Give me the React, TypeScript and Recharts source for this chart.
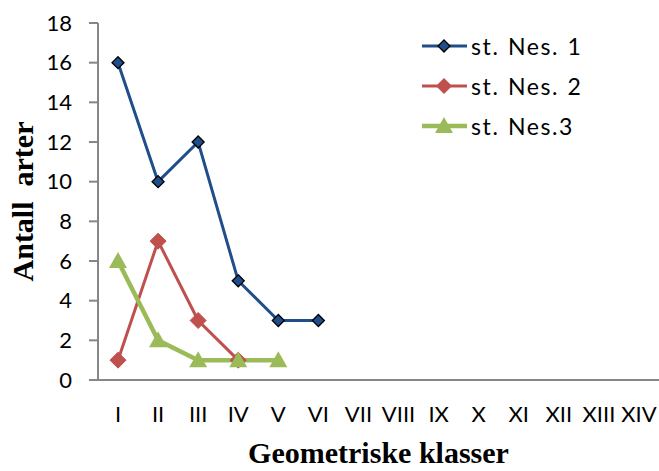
import React from 'react'
import { LineChart, Line, XAxis, YAxis, Legend, Label } from 'recharts'

const classes = ['I', 'II', 'III', 'IV', 'V', 'VI', 'VII', 'VIII', 'IX', 'X', 'XI', 'XII', 'XIII', 'XIV']
const nes1 = [16, 10, 12, 5, 3, 3]
const nes2 = [1, 7, 3, 1]
const nes3 = [6, 2, 1, 1, 1]
const yTicks = [0, 2, 4, 6, 8, 10, 12, 14, 16, 18]

const seriesNames = ['st. Nes. 1', 'st. Nes. 2', 'st. Nes.3']
const BLUE = '#1F4E8A'
const RED = '#C0504D'
const GREEN = '#9BBB59'

const data = classes.map((c, i) => ({
  name: c,
  n1: nes1[i],
  n2: nes2[i],
  n3: nes3[i],
}))

const tickFont = 'Lato, "Open Sans", sans-serif'
const titleFont = '"Liberation Serif", "Times New Roman", serif'

function SmallDiamond(props: any) {
  const { cx, cy } = props
  if (cx == null || cy == null || props.value == null) return null
  const r = 6
  return <path d={`M${cx},${cy - r}L${cx + r},${cy}L${cx},${cy + r}L${cx - r},${cy}Z`} fill={BLUE} stroke="#000" strokeWidth={1.3} />
}

function BigDiamond(props: any) {
  const { cx, cy } = props
  if (cx == null || cy == null || props.value == null) return null
  const r = 8
  return <path d={`M${cx},${cy - r}L${cx + r},${cy}L${cx},${cy + r}L${cx - r},${cy}Z`} fill={RED} stroke={RED} strokeWidth={1} />
}

function Triangle(props: any) {
  const { cx, cy } = props
  if (cx == null || cy == null || props.value == null) return null
  return <path d={`M${cx},${cy - 9}L${cx + 9},${cy + 7}L${cx - 9},${cy + 7}Z`} fill={GREEN} />
}

function LegendBox() {
  const row = (i: number, icon: React.ReactNode, color: string, w: number) => (
    <div key={i} style={{ display: 'flex', alignItems: 'center', height: 40 }}>
      <svg width={48} height={24}>
        <line x1={1} y1={12} x2={46} y2={12} stroke={color} strokeWidth={w} />
        {icon}
      </svg>
      <span
        style={{
          fontFamily: tickFont,
          fontSize: 23,
          letterSpacing: 1.6,
          wordSpacing: 1,
          color: '#000',
          marginLeft: 2,
          whiteSpace: 'nowrap',
        }}
      >
        {seriesNames[i]}
      </span>
    </div>
  )
  return (
    <div>
      {row(0, <path d="M23,6L29,12L23,18L17,12Z" fill={BLUE} stroke="#000" strokeWidth={1.3} />, BLUE, 3)}
      {row(1, <path d="M23,4L31,12L23,20L15,12Z" fill={RED} />, RED, 3)}
      {row(2, <path d="M23,3L32,19L14,19Z" fill={GREEN} />, GREEN, 4.5)}
    </div>
  )
}

export default function App() {
  return (
    <div style={{ position: 'absolute', left: 0, top: 0, background: '#fff' }}>
      <LineChart width={659} height={471} data={data} margin={{ top: 23, right: 0, bottom: 0, left: 0 }}>
        <XAxis
          dataKey="name"
          height={91}
          padding={{ left: 20, right: 20 }}
          stroke="#868686"
          strokeWidth={2}
          tickLine={false}
          tickSize={0}
          tickMargin={26}
          interval={0}
          tick={{ fill: '#000', fontSize: 22, fontFamily: tickFont }}
        >
          <Label
            content={({ viewBox }: any) => (
              <text
                x={viewBox.x + viewBox.width / 2}
                y={463}
                textAnchor="middle"
                fontFamily={titleFont}
                fontWeight="bold"
                fontSize={30}
                fill="#000"
              >
                Geometriske klasser
              </text>
            )}
          />
        </XAxis>
        <YAxis
          width={98}
          domain={[0, 18]}
          ticks={yTicks}
          interval={0}
          stroke="#868686"
          strokeWidth={2}
          tickSize={9}
          tickMargin={17}
          tick={{ fill: '#000', fontSize: 22, fontFamily: tickFont }}
        >
          <Label
            content={({ viewBox }: any) => {
              const cx = 33
              const cy = viewBox.y + viewBox.height / 2
              return (
                <text
                  x={cx}
                  y={cy}
                  transform={`rotate(-90 ${cx} ${cy})`}
                  textAnchor="middle"
                  fontFamily={titleFont}
                  fontWeight="bold"
                  fontSize={30}
                  fill="#000"
                  style={{ whiteSpace: 'pre' }}
                >
                  Antall  arter
                </text>
              )
            }}
          />
        </YAxis>
        <Legend
          content={<LegendBox />}
          layout="vertical"
          align="center"
          verticalAlign="middle"
          wrapperStyle={{ position: 'absolute', top: 26, left: 421, width: 220 }}
        />
        <Line dataKey="n1" name={seriesNames[0]} stroke={BLUE} strokeWidth={3} dot={<SmallDiamond />} activeDot={false} isAnimationActive={false} />
        <Line dataKey="n2" name={seriesNames[1]} stroke={RED} strokeWidth={3} dot={<BigDiamond />} activeDot={false} isAnimationActive={false} />
        <Line dataKey="n3" name={seriesNames[2]} stroke={GREEN} strokeWidth={4.5} dot={<Triangle />} activeDot={false} isAnimationActive={false} />
      </LineChart>
    </div>
  )
}
